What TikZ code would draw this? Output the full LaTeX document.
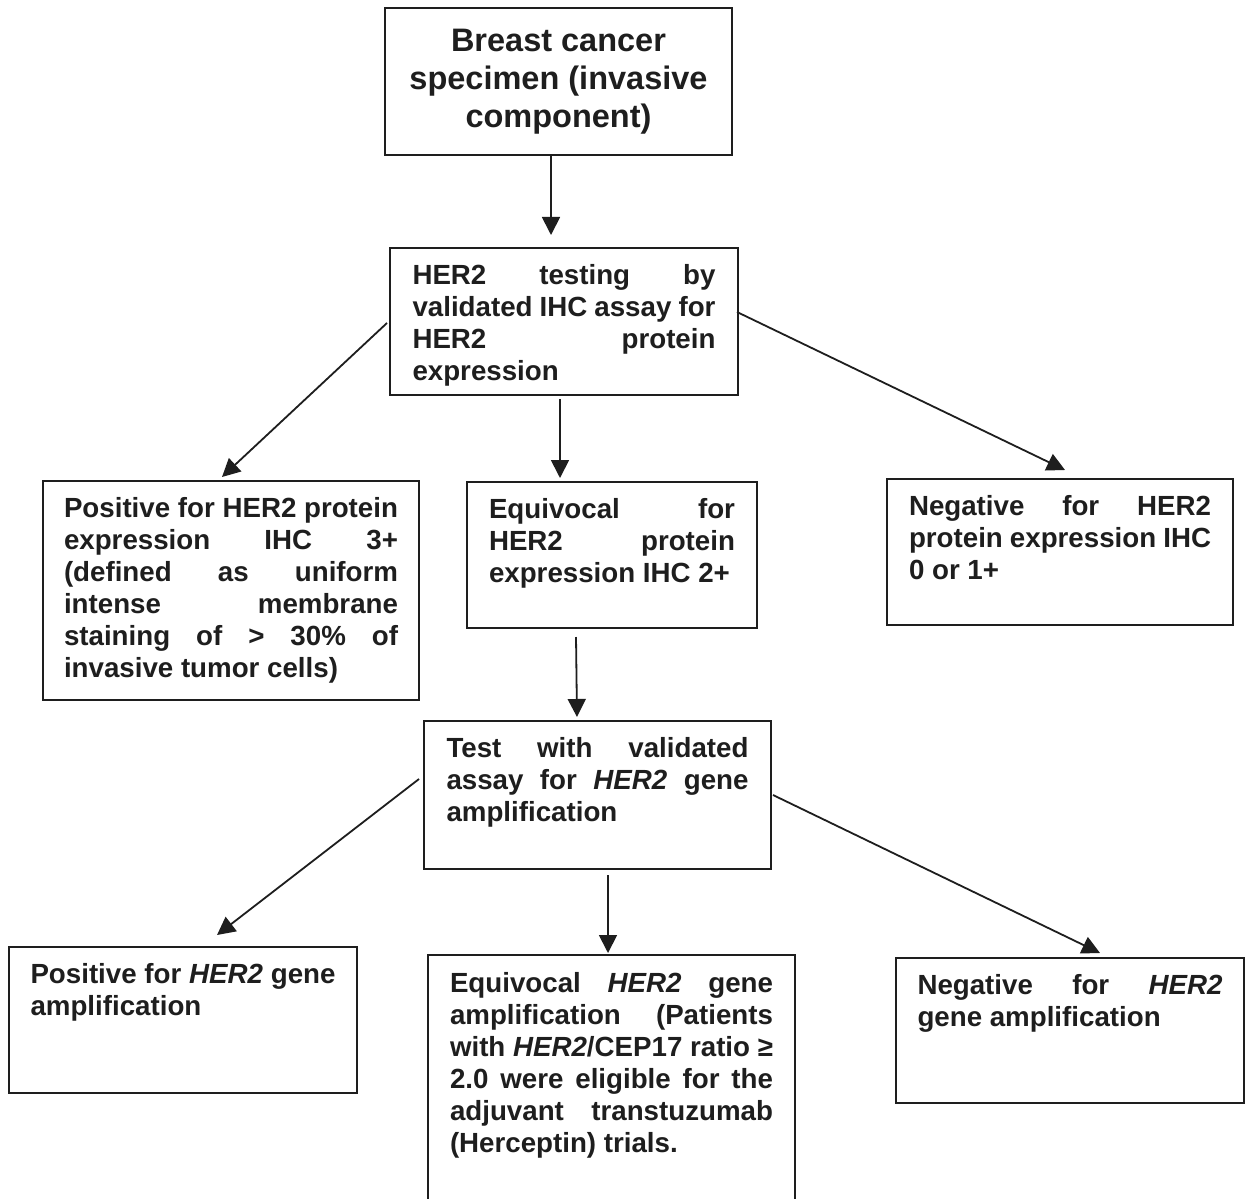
\documentclass[tikz,border=0pt]{standalone}
\usepackage{fontspec}
\setmainfont{Liberation Sans}
\usetikzlibrary{arrows.meta,calc}
\definecolor{ink}{HTML}{1E1E1E}
\newcommand\jl[1]{\makebox[\linewidth][s]{#1}}
\newcommand\tbox[4]{\parbox[c][#2pt][t]{#1pt}{\rule{0pt}{#3pt}#4}}
\begin{document}
\begin{tikzpicture}[x=1pt,y=-1pt,
  box/.style={draw=ink, line width=2pt, inner sep=0pt, outer sep=0pt, text=ink},
  body/.style={font=\fontsize{27.7pt}{32pt}\selectfont\bfseries},
  arr/.style={draw=ink, line width=1.8pt, -{Triangle[length=18pt,width=18pt]}}]
\useasboundingbox[fill=white] (0,0) rectangle (1246,1198);

\node[box, minimum width=347pt, minimum height=147pt, align=center,
  font=\fontsize{32.5pt}{38pt}\selectfont\bfseries] (T) at (558.5,81.5)
  {Breast cancer\\specimen (invasive\\component)};

\node[box, body, minimum width=348pt, minimum height=147pt] (B2) at (564,321.5)
  {\tbox{303}{147}{36}{\jl{HER2 testing by}\\\jl{validated IHC assay for}\\\jl{HER2 protein}\\expression}};

\node[box, body, minimum width=376pt, minimum height=219pt] (L1) at (231,590.5)
  {\tbox{334}{219}{36}{\jl{Positive for HER2 protein}\\\jl{expression IHC 3+}\\\jl{(defined as uniform}\\\jl{intense membrane}\\\jl{staining of > 30\% of}\\invasive tumor cells)}};

\node[box, body, minimum width=290pt, minimum height=146pt] (L2) at (612,555)
  {\tbox{246}{146}{36}{\jl{Equivocal for}\\\jl{HER2 protein}\\expression IHC 2+}};

\node[box, body, minimum width=346pt, minimum height=146pt] (L3) at (1060,552)
  {\tbox{302}{146}{36}{\jl{Negative for HER2}\\\jl{protein expression IHC}\\0 or 1+}};

\node[box, body, minimum width=347pt, minimum height=148pt] (M) at (597.5,795)
  {\tbox{302}{148}{36}{\jl{Test with validated}\\\jl{assay for \textit{HER2} gene}\\amplification}};

\node[box, body, minimum width=348pt, minimum height=146pt] (Bl) at (183,1020)
  {\tbox{305}{146}{36}{\jl{Positive for \textit{HER2} gene}\\amplification}};

\node[box, body, minimum width=367pt, minimum height=255pt] (Bm) at (611.5,1082.5)
  {\tbox{323}{255}{37}{\jl{Equivocal \textit{HER2} gene}\\\jl{amplification (Patients}\\\jl{with \textit{HER2}/CEP17 ratio ≥}\\\jl{2.0 were eligible for the}\\\jl{adjuvant transtuzumab}\\(Herceptin) trials.}};

\node[box, body, minimum width=348pt, minimum height=145pt] (Br) at (1070,1030.5)
  {\tbox{305}{145}{36}{\jl{Negative for \textit{HER2}}\\gene amplification}};

\draw[arr] ($(T.south)+(-7.5,0)$) -- ($(B2.north)+(-13,-13)$);
\draw[arr] ($(B2.west)+(-3,1.5)$) -- ($(L1.north)+(-9,-4)$);
\draw[arr] ($(B2.south)+(-4,4)$) -- ($(L2.north)+(-52,-4)$);
\draw[arr] ($(B2.east)+(-1,-9.5)$) -- ($(L3.north)+(5,-9)$);
\draw[arr] ($(L2.south)+(-36,9)$) -- ($(M.north)+(-20.5,-4)$);
\draw[arr] ($(M.west)+(-5,-16)$) -- ($(Bl.north)+(34,-12)$);
\draw[arr] ($(M.south)+(10.5,6)$) -- ($(Bm.north)+(-3.5,-2)$);
\draw[arr] ($(M.east)+(2,0)$) -- ($(Br.north)+(30,-5)$);
\end{tikzpicture}
\end{document}
